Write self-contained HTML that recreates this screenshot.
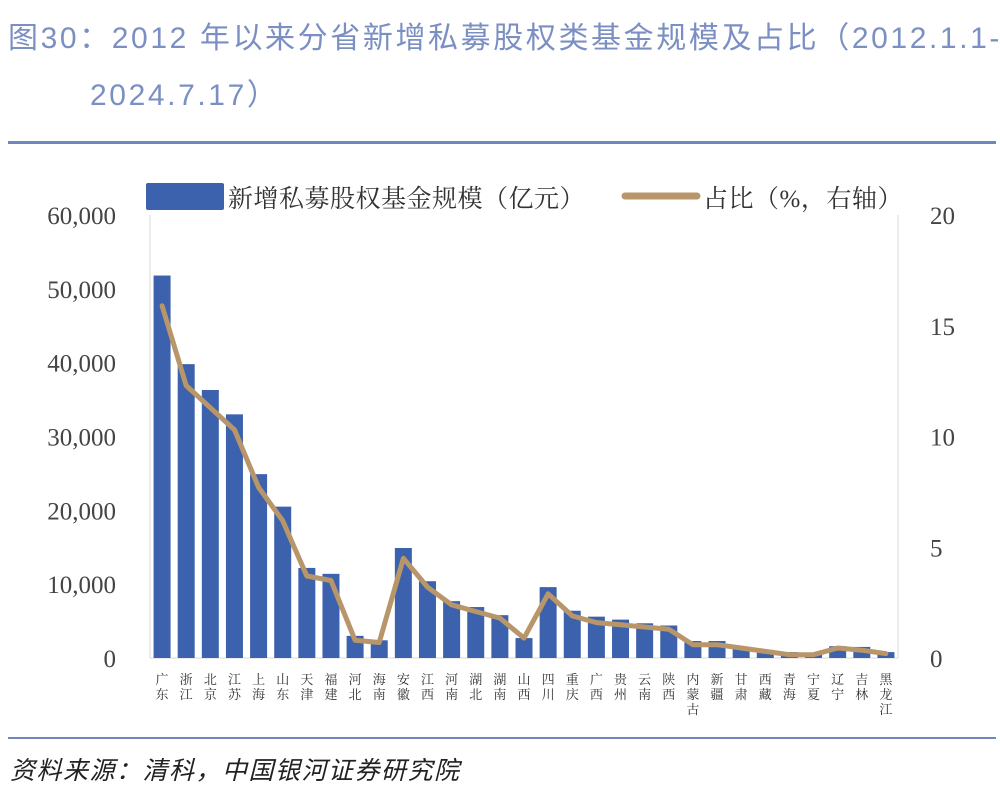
<!DOCTYPE html>
<html><head><meta charset="utf-8"><style>
body{margin:0;width:1000px;height:797px;background:#fff;overflow:hidden;font-family:"Liberation Sans","Noto Sans CJK SC",sans-serif;}
.t{position:absolute;color:#7b8fc2;font-size:30px;letter-spacing:2.6px;font-family:"Liberation Sans Narrow","Liberation Sans","Noto Sans CJK SC",sans-serif;white-space:nowrap;}
</style></head><body>
<div class="t" style="left:8px;top:13px;">图30：2012 年以来分省新增私募股权类基金规模及占比（2012.1.1-</div>
<div class="t" style="left:90px;top:70px;">2024.7.17）</div>
<div style="position:absolute;left:8px;top:141px;width:988px;height:3px;background:#6f87bf;"></div>
<svg width="1000" height="797" style="position:absolute;left:0;top:0">
<g id="g"></g>
<line x1="8" y1="738" x2="996" y2="738" stroke="#6f87bf" stroke-width="2"/>
<text x="10" y="779" font-size="25" letter-spacing="1.5" font-style="italic" fill="#222" font-family="Liberation Sans,Noto Sans CJK SC,sans-serif">资料来源：清科，中国银河证券研究院</text>
</svg>
<script>
const categories=["广东","浙江","北京","江苏","上海","山东","天津","福建","河北","海南","安徽","江西","河南","湖北","湖南","山西","四川","重庆","广西","贵州","云南","陕西","内蒙古","新疆","甘肃","西藏","青海","宁夏","辽宁","吉林","黑龙江"];
const scaleValues=[51800,39800,36300,33000,24900,20500,12200,11400,3000,2400,14900,10400,7700,6900,5800,2700,9600,6400,5600,5200,4700,4400,2300,2300,1500,1100,800,700,1600,1500,800];
const shareValues=[15.9,12.3,11.3,10.3,7.7,6.2,3.7,3.5,0.8,0.7,4.5,3.2,2.4,2.1,1.8,0.9,2.9,1.9,1.6,1.5,1.4,1.3,0.6,0.6,0.45,0.3,0.15,0.15,0.45,0.35,0.2];
const leftTicks=[0,10000,20000,30000,40000,50000,60000];
const leftTickLabels=["0","10,000","20,000","30,000","40,000","50,000","60,000"];
const rightTicks=[0,5,10,15,20];
const NS="http://www.w3.org/2000/svg";
const g=document.getElementById('g');
const X0=150,X1=898,Y0=658,Y1=215;
const band=(X1-X0)/categories.length;
const yL=v=>Y0-(v/60000)*(Y0-Y1);
const yR=v=>Y0-(v/20)*(Y0-Y1);
const xC=i=>X0+band*(i+0.5);
function mk(t,a){const e=document.createElementNS(NS,t);for(const k in a)e.setAttribute(k,a[k]);g.appendChild(e);return e;}
const ff="Liberation Serif,Noto Serif CJK SC,serif";
let e;
e=mk('line',{x1:X0,y1:Y1,x2:X0,y2:Y0,stroke:'#d9d9d9'});


e=mk('line',{x1:X1,y1:Y1,x2:X1,y2:Y0,stroke:'#d9d9d9'});


e=mk('line',{x1:X0,y1:Y0,x2:X1,y2:Y0,stroke:'#d9d9d9'});


leftTicks.forEach((v,i)=>{const t=mk('text',{x:116,y:yL(v)+9,'text-anchor':'end','font-size':25,fill:'#444','font-family':ff});t.textContent=leftTickLabels[i];

});
rightTicks.forEach(v=>{const t=mk('text',{x:930,y:yR(v)+9,'font-size':25,fill:'#444','font-family':ff});t.textContent=String(v);

});
scaleValues.forEach((v,i)=>{const r=mk('rect',{x:xC(i)-8.5,y:yL(v),width:17,height:Y0-yL(v),fill:'#3c62ad'});

});
const pts=shareValues.map((v,i)=>xC(i).toFixed(1)+','+yR(v).toFixed(1)).join(' ');
e=mk('polyline',{points:pts,fill:'none',stroke:'#b8966a','stroke-width':5,'stroke-linejoin':'round','stroke-linecap':'round'});


categories.forEach((c,i)=>{[...c].forEach((ch,j)=>{const t=mk('text',{x:xC(i),y:684+j*15,'text-anchor':'middle','font-size':13,fill:'#333','font-family':ff});t.textContent=ch;

});});
e=mk('rect',{x:146,y:183,width:78,height:27,rx:2,fill:'#3c62ad'});


e=mk('text',{x:228,y:207,'font-size':25,'letter-spacing':0.5,fill:'#333','font-family':ff});e.textContent='新增私募股权基金规模（亿元）';


e=mk('line',{x1:625,y1:196,x2:697,y2:196,stroke:'#b8966a','stroke-width':7,'stroke-linecap':'round'});


e=mk('text',{x:703,y:207,'font-size':25,'letter-spacing':0.5,fill:'#333','font-family':ff});e.textContent='占比（%，右轴）';


</script>
</body></html>
